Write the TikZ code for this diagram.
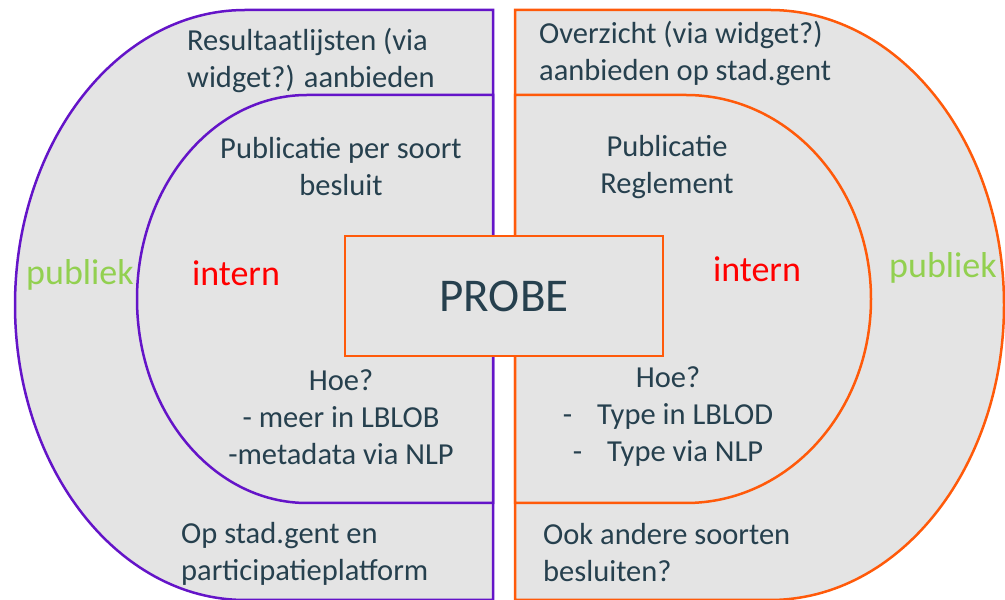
\documentclass[tikz,border=0pt]{standalone}
\usepackage{fontspec}
\setmainfont{Carlito}

\definecolor{probegrey}{RGB}{228,228,228}
\definecolor{probepurple}{RGB}{100,20,200}
\definecolor{probeorange}{RGB}{255,90,10}
\definecolor{probetext}{RGB}{38,64,78}
\definecolor{probegreen}{RGB}{146,208,80}

\tikzstyle{purplezone} = [draw=probepurple, line width=2.5pt, fill=probegrey]
\tikzstyle{orangezone} = [draw=probeorange, line width=2.5pt, fill=probegrey]
\tikzstyle{txt} = [text=probetext, inner sep=0pt, font=\fontsize{30.5}{37}\selectfont]
\tikzstyle{internlbl} = [text=red, inner sep=0pt, font=\fontsize{36}{40}\selectfont]
\tikzstyle{publieklbl} = [text=probegreen, inner sep=0pt, font=\fontsize{36}{40}\selectfont]
\tikzstyle{probebox} = [rectangle, draw=probeorange, line width=2.5pt, fill=probegrey, minimum width=318pt, minimum height=120pt, text=probetext, font=\fontsize{47}{50}\selectfont]

\begin{document}
\begin{tikzpicture}[x=1pt, y=1pt]
  \useasboundingbox (0,0) rectangle (1005,600);

  \draw [purplezone] (493,590) -- (245,590) arc[start angle=90, end angle=270, x radius=230pt, y radius=295pt] -- (493,0) -- cycle;
  \draw [purplezone] (493,505) -- (307,505) arc[start angle=90, end angle=270, x radius=170pt, y radius=204pt] -- (493,97) -- cycle;
  \draw [orangezone] (515,590) -- (770,590) arc[start angle=90, end angle=-90, x radius=234pt, y radius=295pt] -- (515,0) -- cycle;
  \draw [orangezone] (515,505) -- (686,505) arc[start angle=90, end angle=-90, x radius=185pt, y radius=204pt] -- (515,97) -- cycle;

  \node (probe) [probebox] at (504,304) {PROBE};

  \node (resultaat) [txt, anchor=west, align=left] at (187,540) {Resultaatlijsten (via\\widget?) aanbieden};
  \node (persoort) [txt, align=center] at (341,433) {Publicatie per soort\\besluit};
  \node (internL) [internlbl] at (236,327) {intern};
  \node (publiekL) [publieklbl] at (80,325) {publiek};
  \node (hoeL) [txt, align=center] at (341,183) {Hoe?\\- meer in LBLOB\\-metadata via NLP};
  \node (opstad) [txt, anchor=west, align=left] at (181,46) {Op stad.gent en\\participatieplatform};

  \node (overzicht) [txt, anchor=west, align=left] at (539,547) {Overzicht (via widget?)\\aanbieden op stad.gent};
  \node (reglement) [txt, align=center] at (667,433) {Publicatie\\Reglement};
  \node (internR) [internlbl] at (757,331) {intern};
  \node (publiekR) [publieklbl] at (943,332) {publiek};
  \node (hoeR) [txt, align=center] at (668,183) {Hoe?\\-\hspace{25pt}Type in LBLOD\\-\hspace{25pt}Type via NLP};
  \node (andere) [txt, anchor=west, align=left] at (543,47) {Ook andere soorten\\besluiten?};
\end{tikzpicture}
\end{document}
